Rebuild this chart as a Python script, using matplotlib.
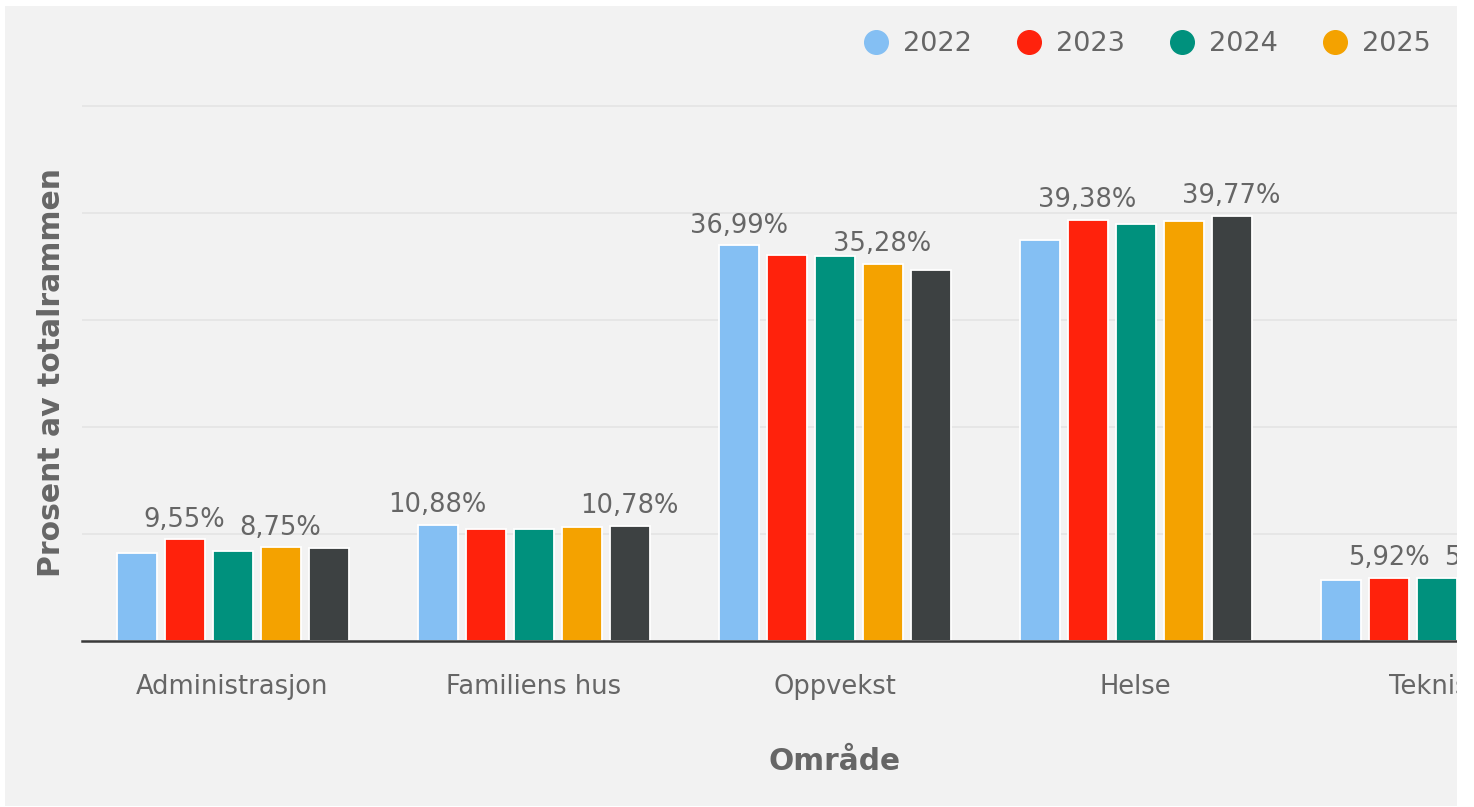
import matplotlib.pyplot as plt
from matplotlib.lines import Line2D
from matplotlib.patches import Rectangle
import numpy as np

# ============================================================
# Data
# ============================================================
categories = ["Administrasjon", "Familiens hus", "Oppvekst", "Helse", "Teknisk"]
series_names = ["2022", "2023", "2024", "2025", "2026"]

values_2022 = [8.22, 10.88, 36.99, 37.50, 5.73]
values_2023 = [9.55, 10.47, 36.05, 39.38, 5.92]
values_2024 = [8.38, 10.43, 36.02, 39.00, 5.90]
values_2025 = [8.75, 10.62, 35.28, 39.30, 5.95]
values_2026 = [8.72, 10.78, 34.70, 39.77, 5.80]

# which series gets a visible data label in each category (others hidden as overlapping)
label_series = [[1, 3], [0, 4], [0, 3], [1, 4], [1, 3]]

colors = ["#84BFF3", "#FF220C", "#00917D", "#F4A200", "#3D4142"]
TEXT_GREY = "#666666"

# ============================================================
# Figure
# ============================================================
W, H = 1474, 807
fig = plt.figure(figsize=(W / 100, H / 100), dpi=100, facecolor="white")

# grey chart background
fig.add_artist(Rectangle((5 / W, 1 / H), (1457 - 5) / W, (806 - 6) / H,
                         transform=fig.transFigure, facecolor="#F2F2F2",
                         edgecolor="none", zorder=-10))

# plot area (wider than the visible image, right part is cut off)
left_px, right_px, top_px, base_px = 82, 82 + 301 * 5, 104, 641
ax = fig.add_axes([left_px / W, 1 - base_px / H,
                   (right_px - left_px) / W, (base_px - top_px) / H])
ax.set_facecolor("none")

all_values = [values_2022, values_2023, values_2024, values_2025, values_2026]
x = np.arange(len(categories))
pitch = 48 / 301
bar_w = 40 / 301
for i, vals in enumerate(all_values):
    offs = (i - 2) * pitch
    ax.bar(x + offs, vals, width=bar_w, color=colors[i],
           edgecolor="white", linewidth=1.3, zorder=3)

for ci, idxs in enumerate(label_series):
    for si in idxs:
        v = all_values[si][ci]
        ax.annotate(f"{v:.2f}".replace(".", ",") + "%",
                    xy=(x[ci] + (si - 2) * pitch, v), xytext=(0, 4.5),
                    textcoords="offset points", ha="center", va="bottom",
                    fontsize=18.5, color=TEXT_GREY, zorder=4,
                    annotation_clip=False)

ax.set_xlim(-0.5, len(categories) - 0.5)
ax.set_ylim(0, 50.2)
ax.set_yticks([10, 20, 30, 40, 50])
ax.set_yticklabels([])
ax.grid(axis="y", color="#E6E6E6", linewidth=1.4, zorder=0)
ax.set_axisbelow(True)

ax.set_xticks(x)
ax.set_xticklabels(categories, fontsize=18.5, color=TEXT_GREY)
ax.tick_params(axis="x", length=0, pad=24)
ax.tick_params(axis="y", length=0)

for side in ["top", "right", "left"]:
    ax.spines[side].set_visible(False)
ax.spines["bottom"].set_color("#3A3A3A")
ax.spines["bottom"].set_linewidth(1.8)
ax.spines["bottom"].set_zorder(5)

ax.set_xlabel("Område", fontsize=21.3, fontweight="bold", color=TEXT_GREY, va="center")
ax.xaxis.set_label_coords(0.5, (base_px - 761) / (base_px - top_px))
ax.set_ylabel("Prosent av totalrammen", fontsize=21.5, fontweight="bold",
              color=TEXT_GREY, va="center")
ax.yaxis.set_label_coords((52 - left_px) / (right_px - left_px), 0.5)

# legend (only the first four entries fit in the visible picture)
handles = [Line2D([], [], marker="o", linestyle="", markersize=17,
                  markerfacecolor=colors[i], markeredgecolor=colors[i])
           for i in range(4)]
fig.legend(handles, series_names[:4], loc="center left",
           bbox_to_anchor=(862.5 / W, 1 - 44 / H), ncol=4, frameon=False,
           fontsize=19.5, labelcolor=TEXT_GREY, handlelength=1.0,
           handletextpad=0.5, columnspacing=1.61, borderpad=0, borderaxespad=0)

# white strip at the right edge (chart was clipped there)
fig.add_artist(Rectangle((1457 / W, 0), (W - 1457) / W, 1,
                         transform=fig.transFigure, facecolor="white",
                         edgecolor="none", zorder=20))

fig.savefig("out.png", dpi=100, facecolor="white")
